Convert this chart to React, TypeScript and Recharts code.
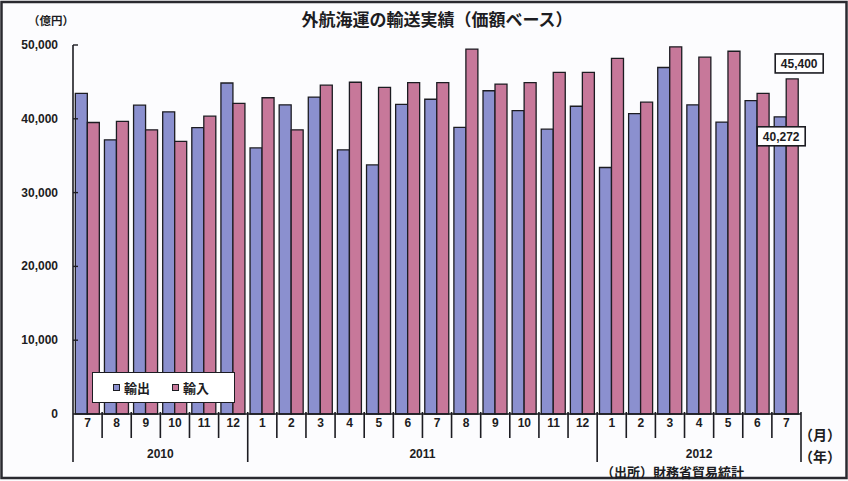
import React from 'react';
import { BarChart, Bar, XAxis, YAxis, Legend, LabelList, Customized } from 'recharts';

const months = ['7', '8', '9', '10', '11', '12', '1', '2', '3', '4', '5', '6', '7', '8', '9', '10', '11', '12', '1', '2', '3', '4', '5', '6', '7'];
const years = ['2010', '2010', '2010', '2010', '2010', '2010', '2011', '2011', '2011', '2011', '2011', '2011', '2011', '2011', '2011', '2011', '2011', '2011', '2012', '2012', '2012', '2012', '2012', '2012', '2012'];
const exportValues = [43450, 37150, 41850, 40950, 38800, 44850, 36050, 41900, 42950, 35800, 33750, 41950, 42650, 38850, 43800, 41100, 38600, 41700, 33400, 40700, 46950, 41900, 39550, 42450, 40272];
const importValues = [39500, 39650, 38500, 36950, 40350, 42100, 42850, 38500, 44550, 44950, 44250, 44900, 44900, 49450, 44700, 44900, 46300, 46300, 48200, 42250, 49750, 48350, 49150, 43450, 45400];
const yTicks = [0, 10000, 20000, 30000, 40000, 50000];
const seriesNames = ['輸出', '輸入'];
const titleText = '外航海運の輸送実績（価額ベース）';
const unitText = '（億円）';
const monthUnitText = '（月）';
const yearUnitText = '（年）';
const sourceText = '（出所）財務省貿易統計';

const data = months.map((m, i) => ({ month: m, year: years[i], exp: exportValues[i], imp: importValues[i] }));

const W = 848;
const H = 481;
const MARGIN = { top: 45, right: 47, left: 0, bottom: 0 };
const Y_AXIS_W = 73;
const X_AXIS_H = 67;
const PLOT_LEFT = MARGIN.left + Y_AXIS_W;
const PLOT_RIGHT = W - MARGIN.right;
const BAND = (PLOT_RIGHT - PLOT_LEFT) / data.length;

const EXP_COLOR = '#8b90cf';
const IMP_COLOR = '#c7789a';
const INK = '#1c1c22';
const JP = '"Noto Sans CJK JP", "Noto Sans", sans-serif';
const NUM = '"Liberation Sans", Arial, sans-serif';

const fmt = (v: number) => v.toLocaleString('en-US');

function MonthTick(props: any) {
  const { x, y, payload } = props;
  const i: number = payload.index;
  const row = data[i];
  const left = x - BAND / 2;
  const right = x + BAND / 2;
  const isYearEnd = i === data.length - 1 || data[i + 1].year !== row.year;
  const isYearStart = i === 0 || data[i - 1].year !== row.year;
  let yearLabel = null;
  if (isYearStart) {
    let n = 0;
    while (i + n < data.length && data[i + n].year === row.year) n++;
    yearLabel = (
      <text x={left + (n * BAND) / 2} y={y + 44} textAnchor="middle" fontFamily={NUM} fontWeight="bold" fontSize={12} fill={INK}>
        {row.year}
      </text>
    );
  }
  return (
    <g>
      {i === 0 && <line x1={left} y1={y} x2={left} y2={y + 48} stroke={INK} strokeWidth={1.6} />}
      <line x1={right} y1={y - 2} x2={right} y2={isYearEnd ? y + 48 : y + 24} stroke={INK} strokeWidth={1.6} />
      <text x={x} y={y + 13} textAnchor="middle" fontFamily={NUM} fontWeight="bold" fontSize={12} fill={INK}>
        {payload.value}
      </text>
      {yearLabel}
    </g>
  );
}

function ValueTick(props: any) {
  const { x, y, payload } = props;
  return (
    <g>
      {payload.value !== 0 && <line x1={x} y1={y} x2={x + 5} y2={y} stroke={INK} strokeWidth={1.4} />}
      <text x={x - 15} y={y + 4} textAnchor="end" fontFamily={NUM} fontWeight="bold" fontSize={12} fill={INK}>
        {fmt(payload.value)}
      </text>
    </g>
  );
}

function ValueBox({ cx, top, text }: { cx: number; top: number; text: string }) {
  return (
    <g>
      <rect x={cx - 24} y={top} width={48} height={19} fill="#ffffff" stroke={INK} strokeWidth={1.6} />
      <text x={cx} y={top + 14} textAnchor="middle" fontFamily={NUM} fontWeight="bold" fontSize={12} fill={INK}>
        {text}
      </text>
    </g>
  );
}

function ExportLabel(props: any) {
  const { x, y, width, index, value } = props;
  if (index !== data.length - 1) return null;
  return <ValueBox cx={x + width / 2 + 1} top={y + 10} text={fmt(value)} />;
}

function ImportLabel(props: any) {
  const { x, y, width, index, value } = props;
  if (index !== data.length - 1) return null;
  return <ValueBox cx={x + width / 2 + 7} top={y - 25} text={fmt(value)} />;
}

function LegendBox() {
  const item = (color: string, label: string) => (
    <div style={{ display: 'flex', alignItems: 'center', marginRight: 22 }}>
      <span style={{ display: 'inline-block', width: 5, height: 5, background: color, border: `1.5px solid ${INK}`, marginRight: 4 }} />
      <span style={{ fontFamily: JP, fontWeight: 'bold', fontSize: 13, color: INK, lineHeight: '14px' }}>{label}</span>
    </div>
  );
  return (
    <div
      style={{
        boxSizing: 'border-box',
        width: 143,
        height: 31,
        border: `1.6px solid ${INK}`,
        background: '#ffffff',
        display: 'flex',
        alignItems: 'center',
        paddingLeft: 20,
      }}
    >
      {item(EXP_COLOR, seriesNames[0])}
      {item(IMP_COLOR, seriesNames[1])}
    </div>
  );
}

function Decorations() {
  return (
    <g>
      <rect x={1.5} y={2} width={W - 3} height={H - 5} fill="none" stroke="#2a2a30" strokeWidth={2.5} />
      <text x={437} y={26} textAnchor="middle" fontFamily={JP} fontWeight="bold" fontSize={17} fill={INK}>
        {titleText}
      </text>
      <text x={28} y={25} fontFamily={JP} fontWeight="bold" fontSize={11.5} fill={INK}>
        {unitText}
      </text>
      <text x={799} y={440} fontFamily={JP} fontWeight="bold" fontSize={14} fill={INK}>
        {monthUnitText}
      </text>
      <text x={799} y={462} fontFamily={JP} fontWeight="bold" fontSize={14} fill={INK}>
        {yearUnitText}
      </text>
      <text x={601} y={477} fontFamily={JP} fontWeight="bold" fontSize={13} fill={INK}>
        {sourceText}
      </text>
    </g>
  );
}

export default function App() {
  return (
    <div style={{ position: 'absolute', left: 0, top: 0, width: W, height: H, background: '#fcfcfe' }}>
      <BarChart width={W} height={H} data={data} margin={MARGIN} barCategoryGap="8%" barGap={0}>
        <Customized component={Decorations} />
        <XAxis
          dataKey="month"
          interval={0}
          height={X_AXIS_H}
          tickSize={0}
          tickMargin={0}
          tickLine={false}
          axisLine={{ stroke: INK, strokeWidth: 1.6 }}
          tick={<MonthTick />}
        />
        <YAxis
          width={Y_AXIS_W}
          domain={[0, 50000]}
          ticks={yTicks}
          interval={0}
          tickSize={0}
          tickMargin={0}
          tickLine={false}
          axisLine={{ stroke: INK, strokeWidth: 1.6 }}
          tick={<ValueTick />}
        />
        <Legend
          layout="horizontal"
          verticalAlign="middle"
          align="center"
          content={<LegendBox />}
          wrapperStyle={{ position: 'absolute', left: 92, top: 372, width: 143, height: 31 }}
        />
        <Bar dataKey="exp" name={seriesNames[0]} fill={EXP_COLOR} stroke={INK} strokeWidth={1.3} isAnimationActive={false}>
          <LabelList dataKey="exp" content={<ExportLabel />} />
        </Bar>
        <Bar dataKey="imp" name={seriesNames[1]} fill={IMP_COLOR} stroke={INK} strokeWidth={1.3} isAnimationActive={false}>
          <LabelList dataKey="imp" content={<ImportLabel />} />
        </Bar>
      </BarChart>
    </div>
  );
}
